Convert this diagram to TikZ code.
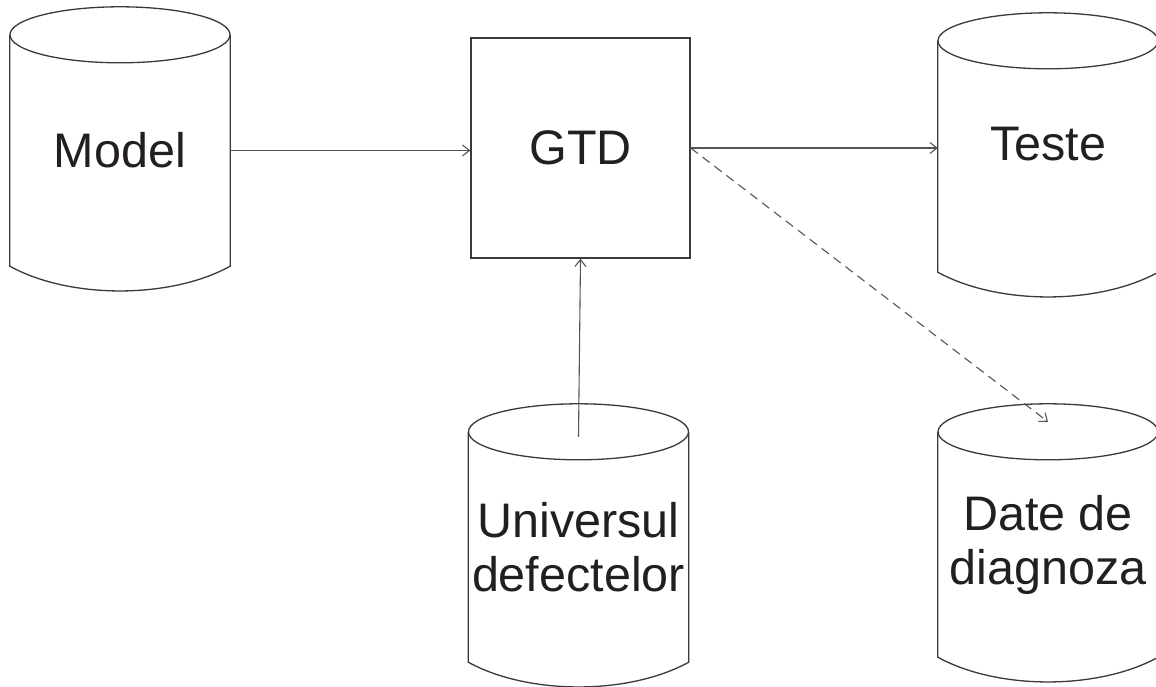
\documentclass[tikz,border=0pt]{standalone}
\usepackage{fontspec}
\setmainfont{Liberation Sans}
\usetikzlibrary{calc,arrows.meta}
\definecolor{ink}{HTML}{231F20}
\definecolor{edge}{HTML}{3A3A3A}
\definecolor{conn}{HTML}{555555}
\begin{document}
\begin{tikzpicture}[x=1pt,y=-1pt,
  txt/.style={font=\fontsize{48.5}{54}\selectfont, text=ink, align=center, inner sep=0pt},
  drum/.style={txt, minimum width=220pt},
  box/.style={txt, draw=edge, line width=1.3pt, minimum width=219pt, minimum height=220pt},
  outline/.style={draw=edge, line width=1.3pt},
  link/.style={draw=conn, line width=1.1pt, -{Straight Barb[length=7pt,width=11pt,line width=1.1pt]}},
  dlink/.style={link, dash pattern=on 9pt off 6pt}]
\useasboundingbox (0,0) rectangle (1156,687);
\fill[white] (0,0) rectangle (1156,687);

\node[drum, minimum height=231pt] (model) at (120,150.5) {Model};
\node[box] (gtd) at (580.5,148) {GTD};
\node[drum, minimum height=231pt, text depth=26pt] (teste) at (1048,156.5) {Teste};
\node[drum, minimum height=230pt] (univ) at (578.5,547) {Universul\\defectelor};
\node[drum, minimum height=225pt] (date) at (1048,544.5) {Date de\\diagnoza};

\foreach \n in {model,teste,univ,date}{
  \draw[outline] (\n.north west) -- (\n.south west)
     .. controls ($(\n.south west)+(60,33)$) and ($(\n.south east)+(-60,33)$) .. (\n.south east)
     -- (\n.north east);
  \draw[outline] (\n.north) ellipse [x radius=110pt, y radius=28pt];
}

\draw[link] (model.east) -- (model.east -| gtd.west);
\draw[link] (gtd.east) -- (gtd.east -| teste.west);
\draw[link] ($(univ.north)+(0,5)$) -- (gtd.south);
\draw[dlink] (gtd.east) -- ($(date.north)+(0,-10)$);
\end{tikzpicture}
\end{document}
